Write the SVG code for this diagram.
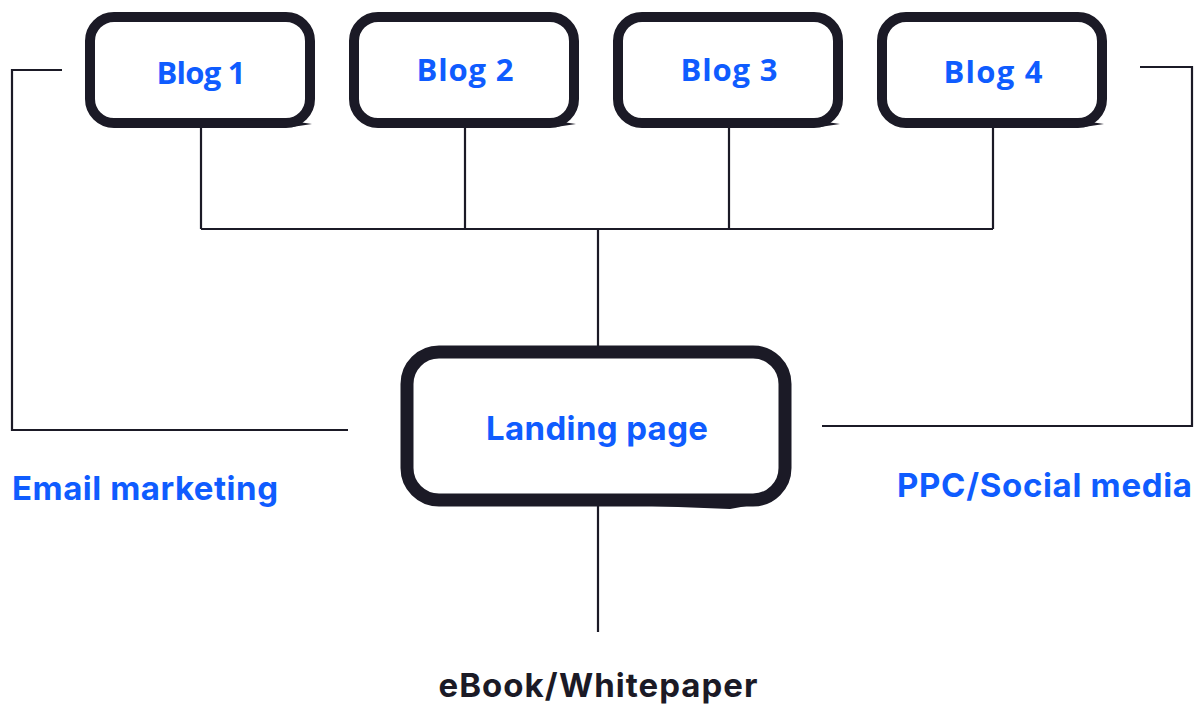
<svg xmlns="http://www.w3.org/2000/svg" width="1203" height="706" viewBox="0 0 1203 706">
<style>
.box{fill:#fff;stroke:#1b1a26;stroke-width:10}
.tail{fill:#1b1a26}
.conn{fill:none;stroke:#1b1a26;stroke-width:2.2}
.lbl{font-family:"Open Sans",Inter,sans-serif;font-weight:700;fill:#0f5cff;font-size:31px}
.lbl2{font-family:Inter,"Open Sans",sans-serif;font-weight:700;fill:#0f5cff;font-size:33px}
.dark{fill:#1b1a26}
</style>
<rect width="1203" height="706" fill="#fff"/>
<g id="connectors">
<path class="conn" d="M201 128V229M465 128V229M729 128V229M993 128V229M201 229H993M598 229V347M598 506V632"/>
<path class="conn" d="M62 70H12V430H348"/>
<path class="conn" d="M1140 67H1192V426H822"/>
</g>
<g id="blog1">
<rect class="box" x="90" y="17" width="220" height="106" rx="24"/>
<path class="tail" d="M200 119 L292 121 L312 124 L292 127 L200 125Z"/>
<text class="lbl" x="201" y="84" text-anchor="middle" textLength="89">Blog 1</text>
</g>
<g id="blog2">
<rect class="box" x="354" y="17" width="220" height="106" rx="24"/>
<path class="tail" d="M464 119 L556 121 L576 124 L556 127 L464 125Z"/>
<text class="lbl" x="465" y="81" text-anchor="middle" textLength="97">Blog 2</text>
</g>
<g id="blog3">
<rect class="box" x="618" y="17" width="220" height="106" rx="24"/>
<path class="tail" d="M728 119 L820 121 L840 124 L820 127 L728 125Z"/>
<text class="lbl" x="729" y="81" text-anchor="middle" textLength="97">Blog 3</text>
</g>
<g id="blog4">
<rect class="box" x="882" y="17" width="220" height="106" rx="24"/>
<path class="tail" d="M992 119 L1084 121 L1104 124 L1084 127 L992 125Z"/>
<text class="lbl" x="993" y="83" text-anchor="middle" textLength="99">Blog 4</text>
</g>
<g id="landing">
<rect class="box" x="407" y="352" width="378" height="148" rx="32" style="stroke-width:13"/>
<path class="tail" d="M600 495 L730 500 L752 505 L730 509 L600 504Z"/>
<text class="lbl2" x="597" y="440" text-anchor="middle" textLength="222">Landing page</text>
</g>
<g id="email">
<text class="lbl2" x="12" y="500" textLength="266">Email marketing</text>
</g>
<g id="ppc">
<text class="lbl2" x="1192" y="497" text-anchor="end" textLength="295">PPC/Social media</text>
</g>
<g id="ebook">
<text class="lbl2 dark" x="598" y="697" text-anchor="middle" textLength="319">eBook/Whitepaper</text>
</g>
</svg>
